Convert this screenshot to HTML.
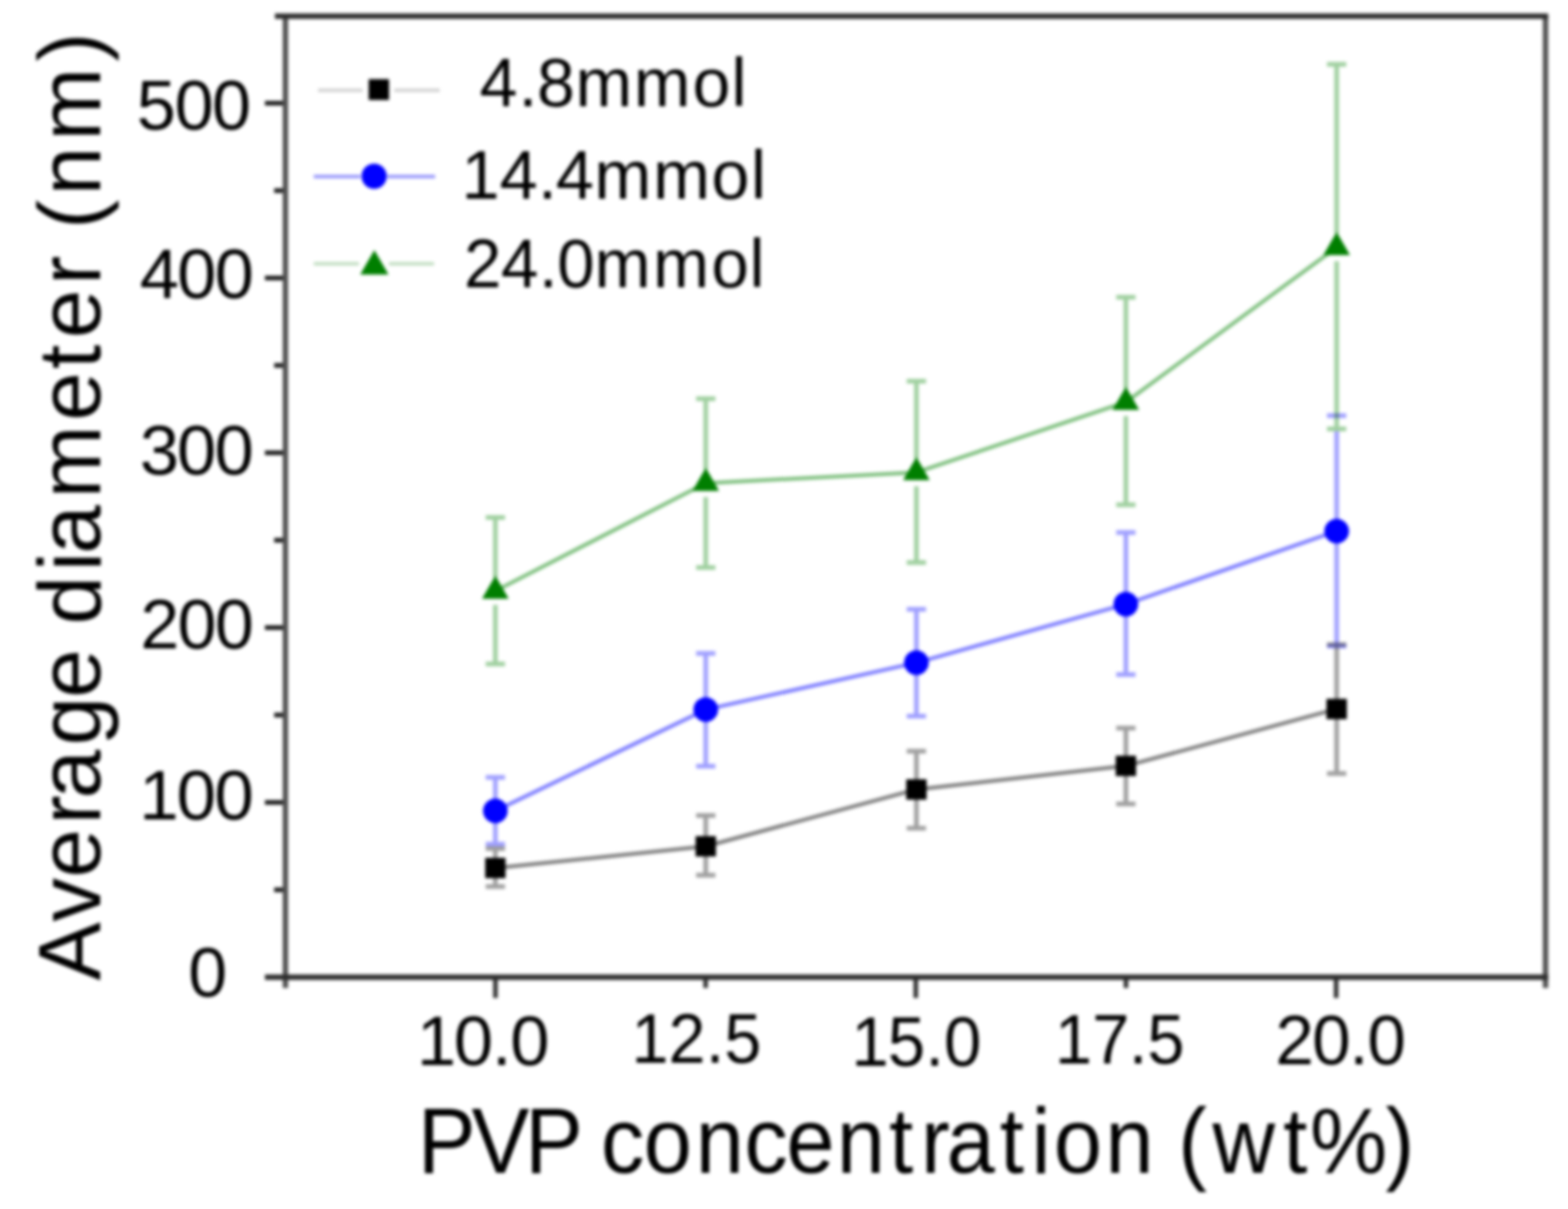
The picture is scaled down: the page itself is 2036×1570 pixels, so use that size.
<!DOCTYPE html>
<html><head><meta charset="utf-8"><title>Average diameter vs PVP concentration</title>
<style>html,body{margin:0;padding:0;background:#fff;overflow:hidden}svg{display:block}</style>
</head><body>
<svg xmlns="http://www.w3.org/2000/svg" width="2036" height="1570" viewBox="0 0 2036 1570"><defs><filter id="bl" x="0" y="0" width="2036" height="1570" filterUnits="userSpaceOnUse" color-interpolation-filters="sRGB"><feGaussianBlur stdDeviation="2.2"/></filter></defs>
<g filter="url(#bl)">
<rect width="2036" height="1570" fill="#fff"/>
<g>
<line x1="344" y1="1269.0" x2="370.6" y2="1269.0" stroke="#1d1d1d" stroke-width="6.0"/>
<line x1="344" y1="1042.0" x2="370.6" y2="1042.0" stroke="#1d1d1d" stroke-width="6.0"/>
<line x1="344" y1="815.0" x2="370.6" y2="815.0" stroke="#1d1d1d" stroke-width="6.0"/>
<line x1="344" y1="588.0" x2="370.6" y2="588.0" stroke="#1d1d1d" stroke-width="6.0"/>
<line x1="344" y1="361.0" x2="370.6" y2="361.0" stroke="#1d1d1d" stroke-width="6.0"/>
<line x1="344" y1="134.0" x2="370.6" y2="134.0" stroke="#1d1d1d" stroke-width="6.0"/>
<line x1="356" y1="1155.5" x2="370.6" y2="1155.5" stroke="#1d1d1d" stroke-width="6.0"/>
<line x1="356" y1="928.5" x2="370.6" y2="928.5" stroke="#1d1d1d" stroke-width="6.0"/>
<line x1="356" y1="701.5" x2="370.6" y2="701.5" stroke="#1d1d1d" stroke-width="6.0"/>
<line x1="356" y1="474.5" x2="370.6" y2="474.5" stroke="#1d1d1d" stroke-width="6.0"/>
<line x1="356" y1="247.5" x2="370.6" y2="247.5" stroke="#1d1d1d" stroke-width="6.0"/>
<line x1="643.3" y1="1269.0" x2="643.3" y2="1296" stroke="#353535" stroke-width="6.0"/>
<line x1="1189.1" y1="1269.0" x2="1189.1" y2="1296" stroke="#353535" stroke-width="6.0"/>
<line x1="1734.9" y1="1269.0" x2="1734.9" y2="1296" stroke="#353535" stroke-width="6.0"/>
<line x1="916.2" y1="1269.0" x2="916.2" y2="1283" stroke="#353535" stroke-width="6.0"/>
<line x1="1462.0" y1="1269.0" x2="1462.0" y2="1283" stroke="#353535" stroke-width="6.0"/>
<line x1="370.6" y1="20.9" x2="370.6" y2="1283" stroke="#515151" stroke-width="7.0"/>
<line x1="2006.8" y1="20.9" x2="2006.8" y2="1283" stroke="#515151" stroke-width="7.0"/>
<line x1="357" y1="20.9" x2="2010.3" y2="20.9" stroke="#2d2d2d" stroke-width="7.0"/>
<line x1="344" y1="1269.0" x2="2010.3" y2="1269.0" stroke="#2d2d2d" stroke-width="7.0"/>
<g>
<polyline points="643.2,1127.2 916.4,1099.0 1189.9,1025.2 1461.9,994.6 1735.6,920.7" fill="none" stroke="#7f7f7f" stroke-width="5.0" stroke-linejoin="round" style="mix-blend-mode:multiply"/>
<path d="M643.2 1102.0V1115.2M643.2 1139.2V1151.3M630.7 1102.0H655.7M630.7 1151.3H655.7M916.4 1059.0V1087.0M916.4 1111.0V1136.5M903.9 1059.0H928.9M903.9 1136.5H928.9M1189.9 975.4V1013.2M1189.9 1037.2V1075.6M1177.4 975.4H1202.4M1177.4 1075.6H1202.4M1461.9 945.5V982.6M1461.9 1006.6V1044.1M1449.4 945.5H1474.4M1449.4 1044.1H1474.4M1735.6 837.0V908.7M1735.6 932.7V1004.6M1723.1 837.0H1748.1M1723.1 1004.6H1748.1" stroke="#a0a0a0" stroke-width="6.0" fill="none" style="mix-blend-mode:multiply"/>
<polyline points="643.2,1053.0 916.4,921.4 1189.9,860.6 1461.9,784.6 1735.6,689.7" fill="none" stroke="#7e7eff" stroke-width="5.0" stroke-linejoin="round" style="mix-blend-mode:multiply"/>
<path d="M643.2 1009.4V1039.0M643.2 1067.0V1096.3M630.7 1009.4H655.7M630.7 1096.3H655.7M916.4 848.5V907.4M916.4 935.4V994.9M903.9 848.5H928.9M903.9 994.9H928.9M1189.9 791.2V846.6M1189.9 874.6V930.0M1177.4 791.2H1202.4M1177.4 930.0H1202.4M1461.9 691.4V770.6M1461.9 798.6V876.1M1449.4 691.4H1474.4M1449.4 876.1H1474.4M1735.6 560.0V675.7M1735.6 703.7V839.0M1723.1 539.7H1748.1M1723.1 839.0H1748.1" stroke="#a0a0ff" stroke-width="6.0" fill="none" style="mix-blend-mode:multiply"/>
<polyline points="643.2,767.4 916.4,627.4 1189.9,613.4 1461.9,522.2 1735.6,321.2" fill="none" stroke="#7fc07f" stroke-width="5.0" stroke-linejoin="round" style="mix-blend-mode:multiply"/>
<path d="M643.2 672.0V749.4M643.2 785.4V862.3M630.7 672.0H655.7M630.7 862.3H655.7M916.4 517.8V609.4M916.4 645.4V737.0M903.9 517.8H928.9M903.9 737.0H928.9M1189.9 495.0V595.4M1189.9 631.4V730.6M1177.4 495.0H1202.4M1177.4 730.6H1202.4M1461.9 386.0V504.2M1461.9 540.2V655.5M1449.4 386.0H1474.4M1449.4 655.5H1474.4M1735.6 83.4V303.2M1735.6 339.2V557.0M1723.1 83.4H1748.1M1723.1 557.0H1748.1" stroke="#a0d0a0" stroke-width="6.0" fill="none" style="mix-blend-mode:multiply"/>
</g>
<polygon points="643.2,747.4 660.5,777.4 625.9,777.4" fill="#007f00"/>
<polygon points="916.4,607.4 933.7,637.4 899.1,637.4" fill="#007f00"/>
<polygon points="1189.9,593.4 1207.2,623.4 1172.6,623.4" fill="#007f00"/>
<polygon points="1461.9,502.2 1479.2,532.2 1444.6,532.2" fill="#007f00"/>
<polygon points="1735.6,301.2 1752.9,331.2 1718.3,331.2" fill="#007f00"/>
<circle cx="643.2" cy="1053.0" r="16.0" fill="#0000ff"/>
<circle cx="916.4" cy="921.4" r="16.0" fill="#0000ff"/>
<circle cx="1189.9" cy="860.6" r="16.0" fill="#0000ff"/>
<circle cx="1461.9" cy="784.6" r="16.0" fill="#0000ff"/>
<circle cx="1735.6" cy="689.7" r="16.0" fill="#0000ff"/>
<rect x="630.0" y="1114.0" width="26.4" height="26.4" fill="#000"/>
<rect x="903.2" y="1085.8" width="26.4" height="26.4" fill="#000"/>
<rect x="1176.7" y="1012.0" width="26.4" height="26.4" fill="#000"/>
<rect x="1448.7" y="981.4" width="26.4" height="26.4" fill="#000"/>
<rect x="1722.4" y="907.5" width="26.4" height="26.4" fill="#000"/>
<path d="M413 117.2H470.7M512 117.2H571" stroke="#d3d3d3" stroke-width="4.6"/>
<rect x="478.7" y="102.8" width="26.4" height="27" fill="#000"/>
<path d="M407.4 229.3H468M503 229.3H565" stroke="#9797fb" stroke-width="4.6"/>
<circle cx="485.8" cy="228.9" r="16.3" fill="#0000ff"/>
<path d="M407.4 342.5H466M505 342.5H563.6" stroke="#c2dec2" stroke-width="4.6"/>
<polygon points="486.1,324.8 504.5,356.6 467.7,356.6" fill="#007f00"/>
</g>
<g font-family="'Liberation Sans', Arial, sans-serif" fill="#000">
<text transform="scale(1.0088,1)" x="242.3" y="1294.5" font-size="90">0</text>
<text transform="scale(1.0253,1)" x="176.3 223.5 271.4" y="1064.5" font-size="90">100</text>
<text transform="scale(1.0106,1)" x="180.3 228.1 276.1" y="842.2" font-size="90">200</text>
<text transform="scale(1.0189,1)" x="178.2 225.5 273.4" y="616.1" font-size="90">300</text>
<text transform="scale(1.0166,1)" x="178.6 226.2 274.1" y="387.5" font-size="90">400</text>
<text transform="scale(1.0145,1)" x="175.0 223.5 271.4" y="168.4" font-size="90">500</text>
<text transform="scale(1.0191,1)" x="531.2 578.3 626.7 650.1" y="1383.5" font-size="90">10.0</text>
<text transform="scale(0.9602,1)" x="853.9 904.1 954.6 979.6" y="1380.5" font-size="90">12.5</text>
<text transform="scale(0.9696,1)" x="1140.1 1188.8 1239.3 1264.3" y="1384.5" font-size="90">15.0</text>
<text transform="scale(0.9637,1)" x="1421.3 1471.6 1521.1 1545.8" y="1381.0" font-size="90">17.5</text>
<text x="1656.0 1703.8 1752.1 1775.5" y="1381.5" font-size="90">20.0</text>
<text transform="scale(0.9871,1)" x="631.0 682.1 706.4 757.1 833.8 910.9 962.2" y="138.5" font-size="89.5">4.8mmol</text>
<text transform="scale(0.9918,1)" x="604.3 654.0 704.3 727.7 778.2 854.9 931.5 983.0" y="258.5" font-size="89.5">14.4mmol</text>
<text transform="scale(0.9759,1)" x="617.4 666.7 717.0 741.3 791.0 869.0 946.6 997.3" y="373.5" font-size="89.5">24.0mmol</text>
<text transform="scale(0.9319,1)" x="582.1 657.0 731.7 812.4 837.4 896.9 969.3 1037.1 1095.6 1165.8 1238.9 1283.2 1318.8 1393.2 1437.1 1468.3 1540.1 1607.4 1641.6 1689.4 1788.0 1825.4 1930.4" y="1523.5" font-size="121">PVP concentration (wt%)</text>
<text transform="translate(130.3,0) rotate(-90) scale(0.9877,1)" x="-1289.0 -1211.9 -1154.0 -1084.1 -1049.9 -980.1 -917.5 -853.5 -821.2 -751.1 -728.2 -655.2 -553.2 -485.3 -444.7 -374.6 -336.3 -300.9 -256.9 -185.0 -81.1" y="0" font-size="115">Average diameter (nm)</text>
</g>
</g>
</svg>
</body></html>
